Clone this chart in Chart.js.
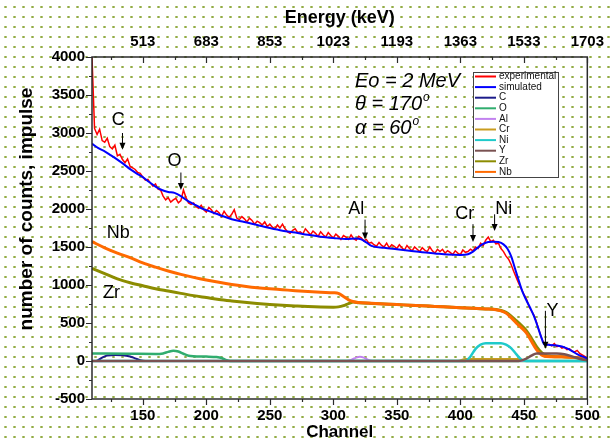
<!DOCTYPE html>
<html>
<head>
<meta charset="utf-8">
<script src="https://cdn.jsdelivr.net/npm/chart.js@4.4.0/dist/chart.umd.min.js"></script>
<style>
  html, body { margin: 0; padding: 0; }
  body {
    width: 610px; height: 443px; overflow: hidden;
    background-color: #fff;
    background-image: radial-gradient(circle, #93ad45 1px, transparent 1.4px);
    background-size: 9px 10px;
    background-position: 1px 2px;
  }
  #box { position: relative; width: 610px; height: 443px; }
</style>
</head>
<body>
<div id="box"><canvas id="spectrum" width="610" height="443"></canvas></div>
<script>
// ---- data ----
const expStart = 110;
const expStep = 2;
const expCounts = [
  4000, 3060, 2980, 3050, 2900, 2880, 2930, 2820, 2790, 2840,
  2700, 2720, 2650, 2610, 2660, 2560, 2540, 2520, 2480, 2470,
  2420, 2380, 2390, 2340, 2300, 2330, 2260, 2250, 2170, 2120,
  2150, 2090, 2120, 2140, 2080, 2110, 2250, 2150, 2080, 2060,
  2080, 2030, 2010, 2050, 1990, 1960, 2020, 1990, 1940, 1980,
  1950, 1900, 1970, 1920, 1890, 1930, 1990, 1880, 1860, 1900,
  1870, 1830, 1880, 1850, 1800, 1840, 1820, 1790, 1830, 1770,
  1800, 1760, 1740, 1790, 1750, 1800, 1740, 1700, 1680, 1720,
  1740, 1690, 1700, 1670, 1740, 1700, 1660, 1710, 1680, 1640,
  1700, 1660, 1630, 1690, 1650, 1620, 1670, 1640, 1600, 1650,
  1630, 1600, 1660, 1610, 1590, 1640, 1620, 1580, 1600, 1550,
  1560, 1530, 1510, 1560, 1520, 1500, 1550, 1490, 1530, 1510,
  1480, 1530, 1490, 1460, 1520, 1480, 1450, 1500, 1470, 1440,
  1490, 1460, 1440, 1500, 1450, 1420, 1470, 1440, 1470, 1420,
  1450, 1430, 1400, 1450, 1420, 1400, 1460, 1430, 1440, 1470,
  1450, 1500, 1480, 1550, 1520, 1590, 1630, 1570, 1590, 1540,
  1550, 1480, 1440, 1380, 1340, 1270, 1180, 1100, 1020, 950,
  880, 820, 720, 660, 600, 510, 400, 300, 230, 210,
  220, 200, 230, 190, 200, 170, 180, 150, 160, 130,
  120, 140, 100, 80, 60, 40
];
const expChannels = expCounts.map((_, i) => expStart + i * expStep);

const simChannels = [110, 115, 120, 125, 130, 135, 140, 145, 150, 155, 160, 165, 170, 175, 180, 185, 190, 195, 200, 210,
  220, 230, 240, 250, 260, 270, 280, 290, 300, 310, 318, 322, 326, 330, 340, 350, 360, 370, 380, 390,
  400, 406, 410, 414, 418, 422, 426, 430, 434, 437, 440, 443, 446, 449, 452, 455, 458, 461, 464, 466,
  470, 476, 480, 484, 488, 492, 496, 500];
const simCounts = [2860, 2800, 2758, 2705, 2650, 2590, 2525, 2470, 2420, 2355, 2295, 2250, 2225, 2212, 2170, 2110, 2065, 2020, 1985, 1925,
  1865, 1830, 1790, 1750, 1715, 1690, 1660, 1635, 1618, 1605, 1612, 1600, 1560, 1515, 1490, 1470, 1450, 1430, 1415, 1400,
  1395, 1405, 1440, 1495, 1540, 1565, 1570, 1565, 1535, 1480, 1380, 1220, 1060, 910, 800, 700, 590, 450, 300, 220,
  212, 205, 190, 165, 130, 90, 60, 34];

const cChannels = [110, 114, 118, 122, 128, 134, 140, 144, 148, 152, 500];
const cCounts = [0, 5, 45, 72, 78, 76, 60, 35, 10, 0, 0];

const oChannels = [110, 140, 160, 166, 170, 174, 178, 182, 186, 190, 200, 208, 212, 216, 219, 500];
const oCounts = [100, 95, 92, 100, 120, 135, 125, 95, 70, 62, 58, 52, 40, 10, 0, 0];

const alChannels = [110, 310, 314, 318, 321, 324, 328, 331, 500];
const alCounts = [0, 0, 15, 45, 55, 45, 10, 0, 0];

const crChannels = [110, 398, 404, 446, 452, 500];
const crCounts = [0, 0, 25, 25, 0, 0];

const niChannels = [110, 404, 408, 412, 416, 420, 432, 436, 440, 444, 448, 452, 500];
const niCounts = [0, 0, 60, 160, 215, 235, 235, 215, 170, 90, 20, 0, 0];

const yChannels = [110, 446, 452, 456, 460, 476, 482, 490, 496, 500];
const yCounts = [0, 0, 30, 70, 100, 100, 90, 50, 20, 10];

const zrChannels = [110, 120, 130, 140, 150, 160, 170, 180, 190, 200, 210, 220, 230, 240, 250, 260, 270, 280, 290, 300,
  304, 308, 312, 316, 320, 330, 340, 350, 360, 370, 380, 390, 400, 410, 420, 428, 432, 436, 440, 444,
  448, 452, 456, 460, 464, 468, 480, 490, 500];
const zrCounts = [1220, 1150, 1080, 1030, 990, 950, 920, 890, 860, 835, 810, 790, 772, 757, 745, 735, 725, 716, 710, 708,
  712, 728, 755, 775, 768, 758, 750, 742, 735, 727, 718, 710, 702, 693, 685, 678, 665, 640, 590, 530,
  470, 400, 300, 190, 110, 70, 55, 45, 34];

const nbChannels = [110, 120, 130, 140, 150, 160, 170, 180, 190, 200, 210, 220, 230, 240, 250, 260, 270, 280, 290, 300,
  304, 308, 312, 316, 320, 330, 340, 350, 360, 370, 380, 390, 400, 410, 420, 428, 432, 436, 440, 444,
  448, 452, 456, 460, 464, 468, 480, 490, 500];
const nbCounts = [1570, 1490, 1420, 1360, 1290, 1235, 1185, 1140, 1100, 1065, 1035, 1008, 985, 965, 950, 938, 925, 915, 905, 898,
  890, 850, 805, 780, 770, 760, 750, 742, 735, 727, 718, 710, 702, 693, 685, 675, 660, 630, 570, 500,
  440, 370, 260, 150, 80, 60, 55, 45, 34];

// bottom ticks (channel) and their energies on the top axis
const channelTicks = [150, 200, 250, 300, 350, 400, 450, 500];
const energyLabels = [513, 683, 853, 1023, 1193, 1363, 1533, 1703];

// element markers: arrow column, arrow tail/tip (counts), label position
const markLabels = ['C', 'O', 'Al', 'Cr', 'Ni', 'Y'];
const markChannel = [134, 180, 325, 410, 427, 467];
const markTail = [3000, 2480, 1860, 1800, 1930, 660];
const markTip = [2780, 2250, 1600, 1565, 1710, 160];
const markTextCh = [130.6, 175, 318, 403.4, 434.2, 472.6];
const markTextVal = [3173, 2627, 2003, 1928, 2003, 659];

const FONT = '"Liberation Sans", Arial, sans-serif';

function pts(xs, ys) {
  return xs.map((x, i) => ({ x: x, y: ys[i] }));
}

function series(label, xs, ys, color, width, order, smooth) {
  return {
    label: label,
    data: pts(xs, ys),
    borderColor: color,
    backgroundColor: color,
    borderWidth: width,
    pointRadius: 0,
    fill: false,
    order: order,
    cubicInterpolationMode: smooth ? 'monotone' : 'default',
    tension: 0
  };
}

/************ FRAME, TICKS, TEXT, LEGEND ************/
const decorations = {
  id: 'decorations',
  afterDraw(chart) {
    const ctx = chart.ctx;
    const a = chart.chartArea;
    const xs = chart.scales.x;
    const ys = chart.scales.y;
    ctx.save();

    // frame
    ctx.strokeStyle = '#2b2b2b';
    ctx.lineWidth = 1.5;
    ctx.strokeRect(a.left, a.top, a.right - a.left, a.bottom - a.top);

    // tick marks
    ctx.lineWidth = 1.2;
    ctx.beginPath();
    xs.ticks.forEach(t => {
      const px = Math.round(xs.getPixelForValue(t.value)) + 0.5;
      const len = t.value % 50 === 0 ? 6 : 3;
      ctx.moveTo(px, a.bottom); ctx.lineTo(px, a.bottom + len);
      ctx.moveTo(px, a.top); ctx.lineTo(px, a.top + len);
    });
    ys.ticks.forEach(t => {
      const py = Math.round(ys.getPixelForValue(t.value)) + 0.5;
      const len = t.value % 500 === 0 ? 6 : 3;
      ctx.moveTo(a.left, py); ctx.lineTo(a.left - len, py);
    });
    ctx.stroke();

    // y title
    ctx.fillStyle = '#000';
    ctx.font = 'bold 19px ' + FONT;
    ctx.textAlign = 'center';
    ctx.textBaseline = 'middle';
    ctx.save();
    ctx.translate(27, 209);
    ctx.rotate(-Math.PI / 2);
    ctx.fillText('number of counts, impulse', 0, 0);
    ctx.restore();

    // element arrows and labels
    ctx.strokeStyle = '#000';
    ctx.lineWidth = 1;
    ctx.font = '18px ' + FONT;
    markLabels.forEach((lab, i) => {
      const px = xs.getPixelForValue(markChannel[i]);
      const y1 = ys.getPixelForValue(markTail[i]);
      const y2 = ys.getPixelForValue(markTip[i]);
      ctx.beginPath();
      ctx.moveTo(px, y1);
      ctx.lineTo(px, y2 - 6);
      ctx.stroke();
      ctx.beginPath();
      ctx.moveTo(px - 3, y2 - 7);
      ctx.lineTo(px + 3, y2 - 7);
      ctx.lineTo(px, y2);
      ctx.closePath();
      ctx.fill();
      ctx.fillText(lab, xs.getPixelForValue(markTextCh[i]), ys.getPixelForValue(markTextVal[i]));
    });
    ctx.fillText('Nb', xs.getPixelForValue(130.6), ys.getPixelForValue(1688));
    ctx.fillText('Zr', xs.getPixelForValue(125.4), ys.getPixelForValue(900));

    // beam conditions
    ctx.textAlign = 'left';
    ctx.font = 'italic 20px ' + FONT;
    ctx.fillText('Eo = 2 MeV', 355, 81);
    const lines = [['\u03b8 = 170', 104], ['\u03b1 = 60', 128]];
    lines.forEach(([txt, y]) => {
      ctx.font = 'italic 20px ' + FONT;
      ctx.fillText(txt, 355, y);
      const w = ctx.measureText(txt).width;
      ctx.font = 'italic 12px ' + FONT;
      ctx.fillText('o', 355 + w + 1, y - 6);
    });

    // legend box
    const lx = 473, ly = 72, lw = 85, lh = 105;
    ctx.fillStyle = '#fff';
    ctx.fillRect(lx, ly, lw, lh);
    ctx.strokeStyle = '#444';
    ctx.lineWidth = 1;
    ctx.strokeRect(lx + 0.5, ly + 0.5, lw, lh);
    ctx.font = '10px ' + FONT;
    ctx.textBaseline = 'middle';
    chart.data.datasets.forEach((ds, i) => {
      const y = ly + 4.5 + i * 10.6;
      ctx.strokeStyle = ds.borderColor;
      ctx.lineWidth = 2;
      ctx.beginPath();
      ctx.moveTo(lx + 2, y);
      ctx.lineTo(lx + 23, y);
      ctx.stroke();
      ctx.fillStyle = '#111';
      ctx.fillText(ds.label, lx + 26, y);
    });
    ctx.restore();
  }
};

const tickFont = { family: FONT, size: 15, weight: 'bold' };

new Chart(document.getElementById('spectrum'), {
  type: 'line',
  data: {
    datasets: [
      series('experimental', expChannels, expCounts, '#ff0000', 1.5, 1, false),
      series('simulated', simChannels, simCounts, '#0000ff', 2, 0, true),
      series('C', cChannels, cCounts, '#1c1c8a', 2, 7, true),
      series('O', oChannels, oCounts, '#30ad6e', 2.5, 6, true),
      series('Al', alChannels, alCounts, '#c282ef', 2, 5, true),
      series('Cr', crChannels, crCounts, '#c99c1f', 2, 4, true),
      series('Ni', niChannels, niCounts, '#1fcaca', 2.5, 3, true),
      series('Y', yChannels, yCounts, '#7a5252', 2.5, 2, true),
      series('Zr', zrChannels, zrCounts, '#8c8c00', 3, 9, true),
      series('Nb', nbChannels, nbCounts, '#ff6a00', 3, 8, true)
    ]
  },
  options: {
    responsive: false,
    devicePixelRatio: 1,
    animation: false,
    layout: { padding: { left: 0, right: 20, top: 0, bottom: 0 } },
    plugins: { legend: { display: false }, tooltip: { enabled: false } },
    scales: {
      x: {
        type: 'linear',
        position: 'bottom',
        min: 110,
        max: 500,
        grid: { display: false, drawTicks: false },
        border: { display: false },
        ticks: {
          stepSize: 25,
          includeBounds: false,
          autoSkip: false,
          maxRotation: 0,
          padding: 8,
          color: '#000',
          font: tickFont,
          callback: v => (v % 50 === 0 ? String(v) : '')
        },
        title: { display: true, text: 'Channel', color: '#000', font: { family: FONT, size: 17, weight: 'bold' }, padding: { top: 0, bottom: 0 } },
        afterFit: s => { s.height = 44; }
      },
      x2: {
        type: 'linear',
        position: 'top',
        min: 110,
        max: 500,
        grid: { display: false, drawTicks: false },
        border: { display: false },
        ticks: {
          stepSize: 25,
          includeBounds: false,
          autoSkip: false,
          maxRotation: 0,
          padding: 6,
          color: '#000',
          font: tickFont,
          callback: v => {
            const k = channelTicks.indexOf(v);
            return k >= 0 ? String(energyLabels[k]) : '';
          }
        },
        title: { display: true, text: 'Energy (keV)', color: '#000', font: { family: FONT, size: 18, weight: 'bold' }, padding: { top: 7, bottom: 0 } },
        afterFit: s => { s.height = 57; }
      },
      y: {
        type: 'linear',
        min: -500,
        max: 4000,
        grid: { display: false, drawTicks: false },
        border: { display: false },
        ticks: {
          stepSize: 250,
          autoSkip: false,
          padding: 7,
          color: '#000',
          font: tickFont,
          callback: v => (v % 500 === 0 ? String(v) : '')
        },
        afterFit: s => { s.width = 92; }
      }
    }
  },
  plugins: [decorations]
});
</script>
</body>
</html>
